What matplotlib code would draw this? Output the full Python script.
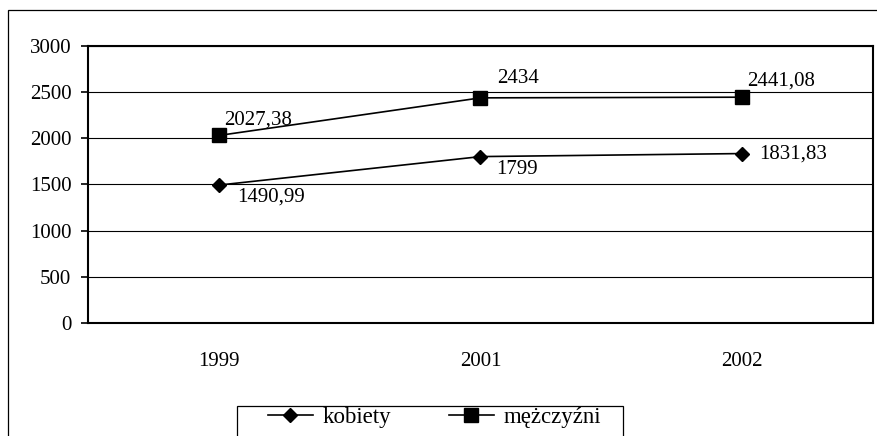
import matplotlib.pyplot as plt
from matplotlib.patches import Rectangle
from matplotlib.lines import Line2D

plt.rcParams['font.family'] = ['Liberation Serif', 'DejaVu Serif']

# dane
lata = ['1999', '2001', '2002']
kobiety = [1490.99, 1799, 1831.83]
mezczyzni = [2027.38, 2434, 2441.08]
etykiety_k = ['1490,99', '1799', '1831,83']
etykiety_m = ['2027,38', '2434', '2441,08']
y_ticks = [0, 500, 1000, 1500, 2000, 2500, 3000]

# przesuniecia etykiet (w punktach)
off_k = [(13, -8.6), (11.5, -9.4), (12.2, 0)]
off_m = [(3.6, 10.8), (12.2, 13.7), (3.6, 11.5)]

W, H = 878, 436
fig = plt.figure(figsize=(W / 100, H / 100), dpi=100)
ax = fig.add_axes([88 / W, 1 - 323 / H, (873 - 88) / W, (323 - 45.5) / H])

x = list(range(len(lata)))
ax.plot(x, kobiety, color='black', lw=1.2, marker='D', ms=7.5, zorder=3)
ax.plot(x, mezczyzni, color='black', lw=1.2, marker='s', ms=9.5, zorder=3)

for i in x:
    ax.annotate(etykiety_k[i], (i, kobiety[i]), xytext=off_k[i], textcoords='offset points',
                ha='left', va='center', fontsize=15)
    ax.annotate(etykiety_m[i], (i, mezczyzni[i]), xytext=off_m[i], textcoords='offset points',
                ha='left', va='center', fontsize=15)

ax.set_xlim(-0.5, len(lata) - 0.5)
ax.set_ylim(0, 3000)
ax.set_yticks(y_ticks)
ax.set_yticklabels([str(v) for v in y_ticks], fontsize=15)
ax.set_xticks(x)
ax.set_xticklabels(lata, fontsize=15)
ax.tick_params(axis='y', length=5, width=1.2, pad=7)
ax.tick_params(axis='x', length=0, pad=21)
ax.yaxis.grid(True, color='black', lw=0.8)
ax.set_axisbelow(True)
for s in ax.spines.values():
    s.set_color('black')
    s.set_linewidth(1.5)

# ramka wykresu
fig.add_artist(Rectangle((8 / W, -0.2), 1.2, 1 - 10 / H + 0.2, transform=fig.transFigure,
                         fill=False, edgecolor='black', lw=0.9))

# legenda
fig.add_artist(Rectangle((237 / W, -0.1), (623 - 237) / W, 1 - 406 / H + 0.1,
                         transform=fig.transFigure, fill=False, edgecolor='black', lw=0.9))
uchwyty = [Line2D([], [], color='black', lw=1.2, marker='D', ms=7.5),
           Line2D([], [], color='black', lw=1.2, marker='s', ms=9.5)]
fig.legend(uchwyty, ['kobiety', 'mężczyźni'], loc='center left',
           bbox_to_anchor=(268 / W, 1 - 417 / H), ncol=2, frameon=False, fontsize=16.5,
           handlelength=1.96, handletextpad=0.44, columnspacing=2.5, borderpad=0, borderaxespad=0)

fig.savefig('out.png', dpi=100)
